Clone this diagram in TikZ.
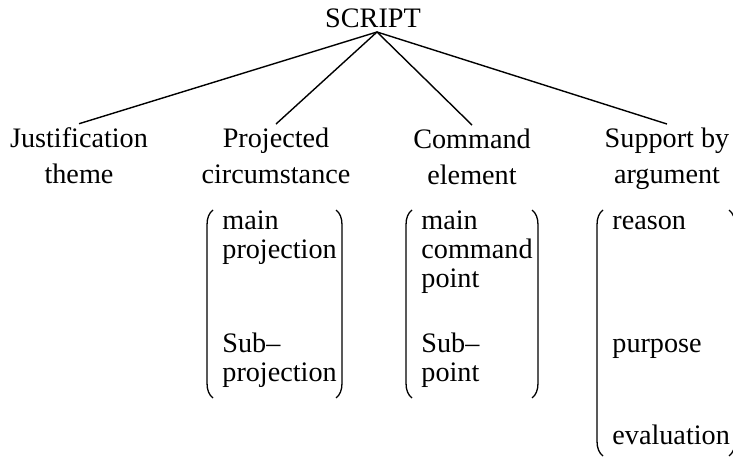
\documentclass[tikz,border=0pt]{standalone}
\usepackage{fontspec}
\setmainfont{Liberation Serif}
\begin{document}
\begin{tikzpicture}[x=0.5pt,y=-0.5pt,
  lbl/.style={font=\fontsize{14.1}{18}\selectfont, align=center, inner sep=2pt, anchor=base},
  inner/.style={font=\fontsize{14.1}{14.5}\selectfont, align=left, inner sep=0pt, anchor=base west},
  conn/.style={line width=0.7pt},
  brk/.style={line width=0.65pt}]
\useasboundingbox (0,0) rectangle (733,458);
\clip (0,0) rectangle (733,458);
\node[lbl] (script) at (373,28) {SCRIPT};
\coordinate (apex) at (377,32);
\node[lbl] (just) at (79,184) {Justification\\theme};
\node[lbl] (proj) at (276,184) {Projected\\circumstance};
\node[lbl] (comm) at (472,185) {Command\\element};
\node[lbl] (supp) at (667,184) {Support by\\argument};
\draw[conn] (apex) -- (just.north);
\draw[conn] (apex) -- (proj.north);
\draw[conn] (apex) -- (comm.north);
\draw[conn] (apex) -- (supp.north);
\node[inner] (pm) at (222,259) {main\\projection};
\node[inner] (ps) at (222,382) {Sub–\\projection};
\node[inner] (cm) at (421,288) {main\\command\\point};
\node[inner] (cs) at (421,382) {Sub–\\point};
\node[inner] (sr) at (612,230) {reason};
\node[inner] (sp) at (612,353) {purpose};
\node[inner] (se) at (612,445) {evaluation};
% brackets
\draw[brk] (213,210) .. controls (209,213) and (207,218) .. (207,225) -- (207,383) .. controls (207,390) and (209,395) .. (213,398);
\draw[brk] (336,210) .. controls (340,213) and (342,218) .. (342,225) -- (342,383) .. controls (342,390) and (340,395) .. (336,398);
\draw[brk] (412,210) .. controls (408,213) and (406,218) .. (406,225) -- (406,383) .. controls (406,390) and (408,395) .. (412,398);
\draw[brk] (532,210) .. controls (536,213) and (538,218) .. (538,225) -- (538,383) .. controls (538,390) and (536,395) .. (532,398);
\draw[brk] (603,210) .. controls (599,213) and (597,218) .. (597,225) -- (597,441) .. controls (597,448) and (599,453) .. (603,456);
\draw[brk] (729,210) .. controls (733,213) and (735,218) .. (735,225) -- (735,441) .. controls (735,448) and (733,453) .. (729,456);
\end{tikzpicture}
\end{document}
